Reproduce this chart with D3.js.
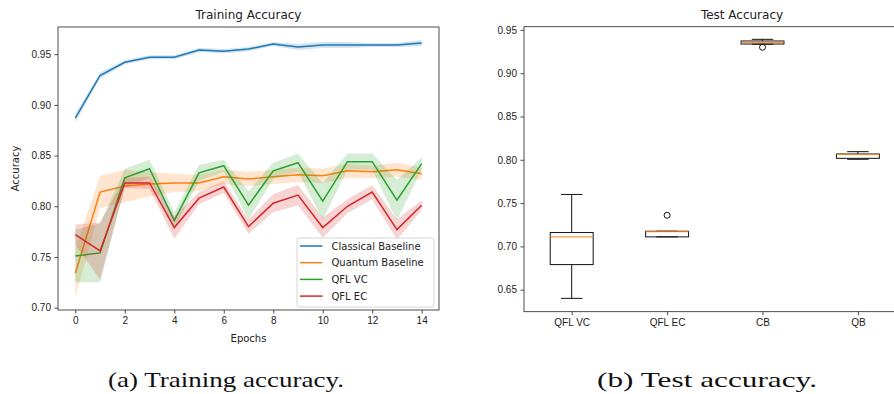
<!DOCTYPE html>
<html>
<head>
<meta charset="utf-8">
<script src="https://cdn.jsdelivr.net/npm/d3@7"></script>
<style>
  body { margin: 0; background: #fff; }
  svg { display: block; font-family: "DejaVu Sans", sans-serif; }
  .tick text { font-size: 10px; fill: #222; }
  .tick line { stroke: #222; stroke-width: 0.8; }
</style>
</head>
<body>
<div id="chart"></div>
<script>
// training curves, one value per epoch
var epochs = d3.range(0, 15);
var classicalMean = [0.887, 0.929, 0.942, 0.947, 0.947, 0.954, 0.953, 0.955, 0.960, 0.957, 0.959, 0.959, 0.959, 0.959, 0.961];
var classicalBand = [0.004, 0.003, 0.002, 0.002, 0.002, 0.002, 0.002, 0.002, 0.002, 0.003, 0.003, 0.003, 0.002, 0.002, 0.003];
var quantumMean = [0.734, 0.814, 0.820, 0.822, 0.823, 0.823, 0.829, 0.827, 0.829, 0.831, 0.830, 0.835, 0.834, 0.836, 0.832];
var quantumBand = [0.024, 0.016, 0.016, 0.012, 0.009, 0.008, 0.007, 0.007, 0.007, 0.007, 0.007, 0.007, 0.006, 0.007, 0.006];
var vcMean = [0.751, 0.754, 0.828, 0.837, 0.786, 0.833, 0.840, 0.801, 0.835, 0.843, 0.805, 0.844, 0.844, 0.806, 0.842];
var vcBand = [0.026, 0.029, 0.009, 0.009, 0.008, 0.008, 0.006, 0.014, 0.008, 0.009, 0.018, 0.008, 0.008, 0.020, 0.006];
var ecMean = [0.772, 0.756, 0.823, 0.823, 0.779, 0.808, 0.819, 0.780, 0.803, 0.811, 0.779, 0.800, 0.814, 0.777, 0.801];
var ecBand = [0.010, 0.028, 0.005, 0.006, 0.011, 0.006, 0.006, 0.007, 0.009, 0.010, 0.010, 0.007, 0.007, 0.010, 0.005];
var seriesNames = ['Classical Baseline', 'Quantum Baseline', 'QFL VC', 'QFL EC'];

// test accuracy box stats
var boxNames = ['QFL VC', 'QFL EC', 'CB', 'QB'];
var whiskerLo = [0.640, 0.711, 0.9335, 0.8006];
var boxQ1 = [0.679, 0.711, 0.9337, 0.8017];
var boxMedian = [0.711, 0.717, 0.9357, 0.8063];
var boxQ3 = [0.716, 0.7175, 0.9372, 0.8067];
var whiskerHi = [0.760, 0.7175, 0.9391, 0.8094];
var outliers = [[], [0.736], [0.9299], []];

var leftTicks = [0.70, 0.75, 0.80, 0.85, 0.90, 0.95];
var rightTicks = [0.65, 0.70, 0.75, 0.80, 0.85, 0.90, 0.95];
var epochTicks = [0, 2, 4, 6, 8, 10, 12, 14];

var colors = ['#1f77b4', '#ff7f0e', '#2ca02c', '#d62728'];

var svg = d3.select('#chart').append('svg')
    .attr('width', 894)
    .attr('height', 394);

// ---------- left: training accuracy ----------
var x1 = d3.scaleLinear().domain([-0.7, 14.7]).range([58, 439]);
var y1 = d3.scaleLinear().domain([0.6977, 0.9768]).range([310, 27]);

var series = [
    {mean: classicalMean, band: classicalBand},
    {mean: quantumMean, band: quantumBand},
    {mean: vcMean, band: vcBand},
    {mean: ecMean, band: ecBand}
];

var left = svg.append('g');

var area = d3.area()
    .x(d => x1(d.e))
    .y0(d => y1(d.m - d.b))
    .y1(d => y1(d.m + d.b));
var line = d3.line()
    .x(d => x1(d.e))
    .y(d => y1(d.m));

series.forEach(function(s, i) {
    var pts = epochs.map((e, j) => ({e: e, m: s.mean[j], b: s.band[j]}));
    left.append('path')
        .attr('d', area(pts))
        .attr('fill', colors[i])
        .attr('fill-opacity', 0.2);
    left.append('path')
        .attr('d', line(pts))
        .attr('fill', 'none')
        .attr('stroke', colors[i])
        .attr('stroke-width', 1.5);
});

left.append('g')
    .attr('transform', 'translate(58,0)')
    .call(d3.axisLeft(y1).tickValues(leftTicks).tickFormat(d3.format('.2f')).tickSize(3.5).tickPadding(3.5))
    .call(g => g.select('.domain').remove());
left.append('g')
    .attr('transform', 'translate(0,310)')
    .call(d3.axisBottom(x1).tickValues(epochTicks).tickSize(3.5).tickPadding(3.5))
    .call(g => g.select('.domain').remove());

left.append('rect')
    .attr('x', 58).attr('y', 27)
    .attr('width', 381).attr('height', 283)
    .attr('fill', 'none').attr('stroke', '#222').attr('stroke-width', 0.8);

left.append('text')
    .attr('x', 248.5).attr('y', 19)
    .attr('text-anchor', 'middle')
    .attr('font-size', 12).attr('fill', '#222')
    .text('Training Accuracy');
left.append('text')
    .attr('x', 248.5).attr('y', 342)
    .attr('text-anchor', 'middle')
    .attr('font-size', 10).attr('fill', '#222')
    .text('Epochs');
left.append('text')
    .attr('transform', 'translate(19,168.5) rotate(-90)')
    .attr('text-anchor', 'middle')
    .attr('font-size', 10).attr('fill', '#222')
    .text('Accuracy');

// legend
var legend = left.append('g').attr('transform', 'translate(297,238)');
legend.append('rect')
    .attr('width', 137).attr('height', 69)
    .attr('rx', 2.5)
    .attr('fill', '#fff').attr('fill-opacity', 0.8)
    .attr('stroke', '#ccc').attr('stroke-width', 0.8);
seriesNames.forEach(function(name, i) {
    var row = legend.append('g').attr('transform', 'translate(0,' + (8 + i * 16.7) + ')');
    row.append('line')
        .attr('x1', 3).attr('x2', 25.5)
        .attr('stroke', colors[i]).attr('stroke-width', 1.5);
    row.append('text')
        .attr('x', 34.5).attr('y', 3.6)
        .attr('font-size', 10).attr('fill', '#222')
        .text(name);
});

// ---------- right: test accuracy ----------
var x2 = d3.scaleLinear().domain([0.5, 4.5]).range([524, 905.6]);
var y2 = d3.scaleLinear().domain([0.6246, 0.9537]).range([311.7, 26.7]);
var boxW = 0.45;

var right = svg.append('g');

right.append('g')
    .attr('transform', 'translate(524,0)')
    .call(d3.axisLeft(y2).tickValues(rightTicks).tickFormat(d3.format('.2f')).tickSize(3.5).tickPadding(3.5))
    .call(g => g.select('.domain').remove());
right.append('g')
    .attr('transform', 'translate(0,311.7)')
    .call(d3.axisBottom(x2).tickValues([1, 2, 3, 4]).tickFormat((d, i) => boxNames[i]).tickSize(3.5).tickPadding(3.5))
    .call(g => g.select('.domain').remove());

boxNames.forEach(function(name, i) {
    var p = i + 1;
    var g = right.append('g');
    // whiskers
    g.append('line')
        .attr('x1', x2(p)).attr('x2', x2(p))
        .attr('y1', y2(boxQ1[i])).attr('y2', y2(whiskerLo[i]))
        .attr('stroke', '#111').attr('stroke-width', 1);
    g.append('line')
        .attr('x1', x2(p)).attr('x2', x2(p))
        .attr('y1', y2(boxQ3[i])).attr('y2', y2(whiskerHi[i]))
        .attr('stroke', '#111').attr('stroke-width', 1);
    // caps
    [whiskerLo[i], whiskerHi[i]].forEach(function(v) {
        g.append('line')
            .attr('x1', x2(p - boxW / 4)).attr('x2', x2(p + boxW / 4))
            .attr('y1', y2(v)).attr('y2', y2(v))
            .attr('stroke', '#111').attr('stroke-width', 1);
    });
    // box
    g.append('rect')
        .attr('x', x2(p - boxW / 2))
        .attr('y', y2(boxQ3[i]))
        .attr('width', x2(p + boxW / 2) - x2(p - boxW / 2))
        .attr('height', Math.max(y2(boxQ1[i]) - y2(boxQ3[i]), 0.5))
        .attr('fill', 'none').attr('stroke', '#111').attr('stroke-width', 1);
    // median
    g.append('line')
        .attr('x1', x2(p - boxW / 2)).attr('x2', x2(p + boxW / 2))
        .attr('y1', y2(boxMedian[i])).attr('y2', y2(boxMedian[i]))
        .attr('stroke', '#ff7f0e').attr('stroke-width', 1);
    // fliers
    outliers[i].forEach(function(v) {
        g.append('circle')
            .attr('cx', x2(p)).attr('cy', y2(v))
            .attr('r', 3)
            .attr('fill', 'none').attr('stroke', '#111').attr('stroke-width', 1);
    });
});

right.append('rect')
    .attr('x', 524).attr('y', 26.7)
    .attr('width', 381.6).attr('height', 285)
    .attr('fill', 'none').attr('stroke', '#222').attr('stroke-width', 0.8);

right.append('text')
    .attr('x', 742).attr('y', 19)
    .attr('text-anchor', 'middle')
    .attr('font-size', 12).attr('fill', '#222')
    .text('Test Accuracy');

// ---------- captions ----------
svg.append('text')
    .attr('x', 226).attr('y', 387)
    .attr('text-anchor', 'middle')
    .attr('font-family', '"Liberation Serif", serif')
    .attr('font-size', 21).attr('fill', '#111')
    .attr('textLength', 236).attr('lengthAdjust', 'spacingAndGlyphs')
    .text('(a) Training accuracy.');
svg.append('text')
    .attr('x', 707).attr('y', 387)
    .attr('text-anchor', 'middle')
    .attr('font-family', '"Liberation Serif", serif')
    .attr('font-size', 21).attr('fill', '#111')
    .attr('textLength', 220).attr('lengthAdjust', 'spacingAndGlyphs')
    .text('(b) Test accuracy.');
</script>
</body>
</html>
